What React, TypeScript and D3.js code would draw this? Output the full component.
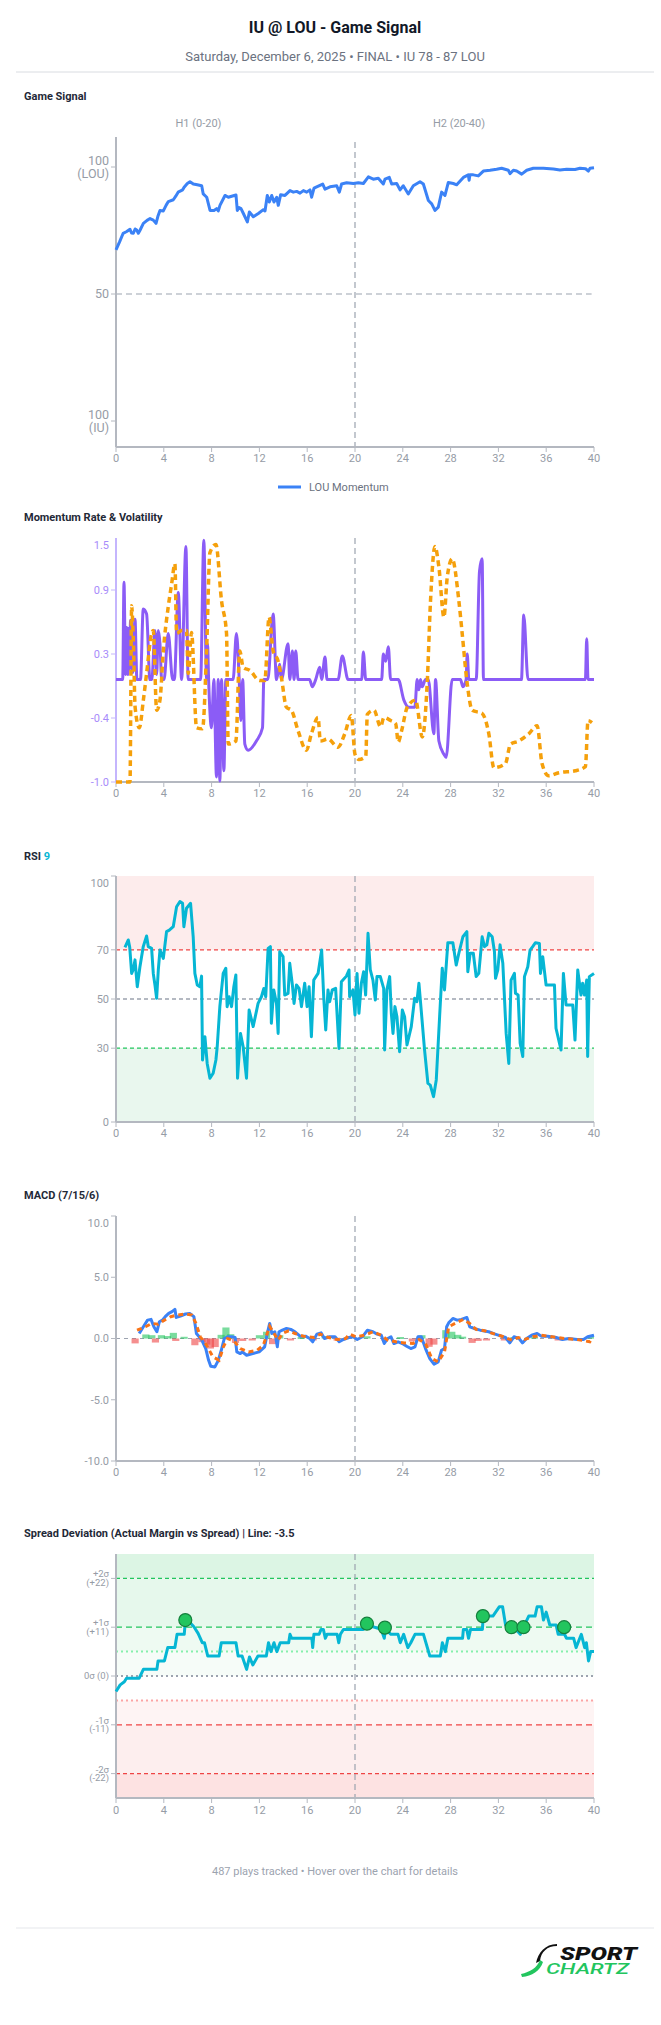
import React from "react";
import * as d3 from "d3";

const W = 661;
const H = 2025;
const FONT = "Roboto, 'Noto Sans', sans-serif";

const TITLE = "IU @ LOU - Game Signal";
const SUBTITLE = "Saturday, December 6, 2025 • FINAL • IU 78 - 87 LOU";
const FOOTER = "487 plays tracked • Hover over the chart for details";

const X_TICKS = [0, 4, 8, 12, 16, 20, 24, 28, 32, 36, 40];

// Game signal: LOU momentum (0 = IU 100, 100 = LOU 100)
const SIGNAL_TICKS = [100, 50, 0];
const SIGNAL_LABELS = [["100", "(LOU)"], ["50"], ["100", "(IU)"]];
const momentum: [number, number][] = [
  [0, 67.4], [0.3, 70.5], [0.6, 73.9], [0.9, 74.6], [1.17, 75.5], [1.3, 74.0], [1.45, 73.9], [1.6, 75.6], [1.73, 75.2],
  [1.87, 73.9], [2.0, 75.0], [2.29, 77.8], [2.6, 79.0], [2.85, 79.7], [3.12, 79.1], [3.35, 77.8], [3.5, 80.5], [3.68, 82.9],
  [3.96, 82.7], [4.2, 85.0], [4.38, 86.4], [4.8, 87.1], [5.0, 88.5], [5.2, 90.1], [5.58, 91.0], [5.7, 92.0], [5.97, 93.5],
  [6.19, 94.2], [6.47, 93.3], [6.8, 93.0], [7.17, 92.6], [7.3, 89.4], [7.59, 88.1], [7.87, 82.9], [8.2, 82.9], [8.42, 83.6],
  [8.56, 82.7], [8.7, 84.9], [9.12, 88.8], [9.4, 88.1], [9.68, 88.5], [10.04, 89.0], [10.15, 82.9], [10.3, 84.0], [10.46, 83.6],
  [10.66, 81.7], [10.99, 78.4], [11.16, 82.3], [11.49, 80.4], [11.91, 81.7], [12.33, 83.2], [12.47, 82.7], [12.66, 88.8],
  [12.83, 86.2], [13.03, 88.8], [13.22, 86.2], [13.45, 88.1], [13.58, 84.9], [13.78, 89.1], [14.14, 88.8], [14.56, 90.7],
  [14.84, 90.1], [15.12, 90.4], [15.4, 89.7], [15.68, 90.7], [15.96, 90.1], [16.23, 91.0], [16.37, 88.1], [16.57, 91.7],
  [16.93, 92.5], [17.3, 93.3], [17.49, 91.3], [17.91, 92.2], [18.47, 92.6], [18.69, 90.1], [18.88, 93.3], [19.3, 93.8],
  [19.86, 93.5], [20.28, 93.8], [20.7, 93.5], [21.12, 96.1], [21.53, 95.2], [21.95, 95.6], [22.37, 93.3], [22.51, 95.2],
  [22.87, 95.9], [23.07, 93.3], [23.49, 93.5], [23.77, 91.0], [24.04, 92.6], [24.46, 89.4], [24.88, 92.6], [25.44, 94.2],
  [25.72, 93.3], [26.14, 86.8], [26.42, 85.5], [26.69, 82.9], [26.97, 84.2], [27.25, 90.1], [27.53, 88.8], [27.81, 93.9],
  [28.23, 93.5], [28.51, 93.0], [29.07, 95.9], [29.48, 96.9], [29.55, 94.8], [29.62, 96.9], [29.9, 96.9], [30.32, 96.5],
  [30.74, 98.4], [31.3, 98.7], [31.85, 99.1], [32.27, 99.5], [32.83, 98.7], [32.97, 97.4], [33.25, 98.7], [33.53, 98.4],
  [33.95, 97.2], [34.37, 98.7], [34.92, 99.5], [35.76, 99.5], [36.6, 99.2], [37.15, 98.8], [37.71, 99.1], [38.41, 99.0],
  [38.83, 99.5], [39.3, 99.3], [39.53, 98.4], [39.67, 99.5], [40, 99.7],
];

// Momentum rate (purple) & volatility (orange)
const RATE_TICKS = [-1, -0.375, 0.25, 0.875, 1.5];
const RATE_LABELS = ["-1.0", "-0.4", "0.3", "0.9", "1.5"];
const rate: [number, number][] = [
  [0, 0], [0.56, 0], [0.67, 0.95], [0.8, 0.05], [0.89, 0.51], [1.0, 0.05], [1.05, 0.5], [1.12, 0.1], [1.22, 0.58], [1.4, 0.07],
  [1.59, 0.59], [1.75, 0], [2.05, 0], [2.28, 0.69], [2.56, 0.64], [2.84, 0], [3.0, 0], [3.26, 0.48], [3.4, 0.05], [3.54, 0.48],
  [3.68, 0.35], [3.82, 0], [4.02, 0], [4.37, 0.45], [4.74, 0], [4.88, 0], [5.21, 0.85], [5.49, 0], [5.85, 1.3], [6.04, 0],
  [7.08, 0], [7.35, 1.36], [7.58, 0], [7.66, 0.35], [7.75, 0], [7.99, -0.47], [8.19, 0], [8.41, -0.95], [8.55, 0], [8.69, -0.99],
  [8.83, 0], [9.03, -0.89], [9.19, 0], [9.8, 0], [10.08, 0.45], [10.31, 0], [10.45, -0.4], [10.6, 0], [10.78, -0.63],
  [11.06, -0.69], [11.75, -0.6], [12.26, -0.47], [12.37, 0], [12.7, 0], [13.15, 0.64], [13.43, 0], [13.7, 0.15], [13.84, 0],
  [14.4, 0.35], [14.54, 0], [14.76, 0.28], [14.9, 0], [15.04, 0.28], [15.24, 0], [16.2, 0], [16.43, -0.07], [16.71, 0],
  [17.05, 0.12], [17.21, 0], [17.49, 0.22], [17.66, 0], [18.58, 0], [18.94, 0.23], [19.42, 0], [20.56, 0], [20.7, 0.27],
  [20.9, 0], [22.23, 0], [22.37, 0.25], [22.57, 0.18], [22.79, 0.32], [22.98, 0], [23.62, 0], [24.09, -0.2], [24.5, -0.27],
  [25.01, -0.27], [25.2, 0], [25.34, -0.1], [25.48, 0], [25.62, -0.07], [25.9, 0], [26.13, 0], [26.6, -0.53], [26.74, 0],
  [27.02, -0.6], [27.44, -0.73], [27.63, -0.76], [28.13, 0], [28.83, 0], [29.03, -0.07], [29.3, 0], [29.39, 0.25], [29.53, 0],
  [30.14, 0], [30.42, 1.06], [30.64, 1.18], [30.75, 0], [33.93, 0], [34.12, 0.63], [34.48, 0], [39.28, 0], [39.39, 0.4],
  [39.5, 0], [40, 0],
];
const volatility: [number, number][] = [
  [0, -1], [1.17, -1], [1.31, 0.72], [1.45, 0.38], [1.6, -0.27], [1.95, -0.47], [2.29, -0.2], [2.56, 0.06], [2.98, 0.45],
  [3.12, 0.48], [3.4, -0.3], [3.68, -0.2], [3.96, 0.28], [4.37, 0.71], [4.65, 0.93], [4.93, 1.13], [5.07, 0.45], [5.49, 0.48],
  [5.9, 0.48], [6.04, 0.06], [6.32, 0.46], [6.74, -0.47], [7.24, -0.48], [7.58, 0.28], [7.86, 1.24], [8.36, 1.32], [8.83, 0.77],
  [9.25, 0.45], [9.39, -0.63], [10.03, -0.6], [10.36, 0.28], [10.64, 0.12], [11.2, 0.09], [12.03, -0.01], [12.45, -0.01],
  [12.81, 0.61], [13.15, 0.28], [13.57, 0.18], [13.84, 0.02], [14.26, -0.27], [14.68, -0.3], [15.24, -0.5], [15.93, -0.69],
  [16.35, -0.53], [16.91, -0.37], [17.1, -0.6], [17.74, -0.58], [18.58, -0.66], [19.14, -0.53], [19.69, -0.35], [20.0, -0.73],
  [20.33, -0.78], [20.9, -0.75], [21.03, -0.34], [21.59, -0.3], [22.14, -0.46], [22.42, -0.37], [22.98, -0.4], [23.4, -0.43],
  [23.62, -0.61], [23.9, -0.5], [24.37, -0.27], [25.07, -0.2], [25.63, -0.56], [26.04, -0.04], [26.32, 0.77], [26.69, 1.3],
  [27.02, 1.1], [27.44, 0.61], [27.72, 1.0], [28.13, 1.18], [28.69, 0.77], [28.97, 0.45], [29.39, -0.04], [29.81, -0.3],
  [30.64, -0.33], [31.2, -0.53], [31.62, -0.86], [32.59, -0.82], [33.01, -0.63], [33.7, -0.6], [34.54, -0.53], [35.24, -0.45],
  [35.65, -0.82], [36.21, -0.94], [37.05, -0.91], [38.44, -0.89], [39.28, -0.85], [39.5, -0.4], [39.83, -0.42],
];

// RSI 9
const RSI_TICKS = [0, 30, 50, 70, 100];
const rsi: [number, number][] = [
  [0.75, 71], [1.03, 74], [1.15, 71], [1.31, 60.4], [1.45, 62], [1.59, 65.9], [1.78, 55], [2.0, 63], [2.28, 71.3], [2.56, 75.6],
  [2.7, 71.3], [2.98, 70.6], [3.12, 60.4], [3.26, 55.7], [3.4, 50.3], [3.54, 61.8], [3.68, 69.9], [3.96, 66.5], [4.23, 77.4],
  [4.46, 78], [4.79, 79.4], [5.07, 87.5], [5.35, 89.6], [5.57, 88.9], [5.68, 79.4], [5.9, 86.9], [6.24, 88.9], [6.46, 75.3],
  [6.6, 60.4], [6.8, 55.7], [7.02, 55], [7.16, 59.3], [7.24, 25.2], [7.44, 34.7], [7.63, 23.8], [7.86, 17.8], [8.13, 19.8],
  [8.36, 25.2], [8.47, 30.6], [8.69, 46.9], [8.97, 60.4], [9.19, 62.5], [9.3, 46.9], [9.47, 50.9], [9.67, 46.9], [9.86, 55],
  [10.03, 59.8], [10.17, 17.8], [10.42, 36], [10.64, 30.6], [10.92, 17.8], [11.14, 45.5], [11.48, 38.8], [11.89, 48.2],
  [12.17, 50.9], [12.37, 54.3], [12.53, 50.9], [12.73, 70.6], [12.92, 71.3], [13.0, 40.1], [13.2, 53.7], [13.43, 48.2],
  [13.57, 36], [13.7, 69.2], [13.98, 67.2], [14.12, 51.6], [14.4, 52.3], [14.54, 64.5], [14.76, 55.7], [14.9, 48.2],
  [15.1, 55.7], [15.32, 54.3], [15.52, 46.9], [15.79, 56.4], [15.99, 46.9], [16.16, 55], [16.35, 34.7], [16.55, 57.7],
  [16.91, 60.4], [17.21, 69.9], [17.38, 50.9], [17.55, 37.4], [17.74, 53.7], [17.88, 48.9], [18.1, 53.7], [18.38, 54.3],
  [18.66, 29.9], [18.86, 57], [19.28, 59.3], [19.5, 61.8], [19.55, 50.9], [19.83, 53.7], [20.0, 43.5], [20.17, 60.4],
  [20.33, 44.2], [20.53, 56.4], [20.72, 61.1], [20.89, 51.6], [21.09, 76.7], [21.28, 61.8], [21.5, 57.7], [21.7, 49.6],
  [21.84, 59.1], [22.12, 59.1], [22.4, 54.3], [22.48, 29.3], [22.67, 53.7], [22.9, 59.1], [23.04, 44.2], [23.18, 36],
  [23.34, 46.9], [23.51, 42.8], [23.73, 28.6], [23.96, 45.5], [24.15, 42.8], [24.35, 31.3], [24.71, 38.8], [24.99, 50.3],
  [25.18, 48.9], [25.35, 56.4], [25.54, 45.5], [25.82, 29.3], [26.1, 15.7], [26.3, 15], [26.57, 10.3], [26.8, 17.1],
  [27.08, 42.8], [27.3, 62.5], [27.49, 53.7], [27.77, 72.9], [28.19, 72.9], [28.47, 63.8], [28.69, 68.6], [29.03, 75.3],
  [29.36, 77.4], [29.44, 61.1], [29.64, 68.6], [29.9, 68.6], [30.14, 59.1], [30.36, 60.4], [30.64, 75.3], [30.84, 71.3],
  [31.03, 72], [31.2, 76.7], [31.48, 75.3], [31.67, 69.2], [31.76, 58.4], [31.95, 61.8], [32.14, 72], [32.37, 64.5],
  [32.65, 36], [32.87, 23.8], [33.06, 57.7], [33.34, 60.4], [33.43, 52.3], [33.65, 51.6], [33.82, 32], [34.04, 26.6],
  [34.18, 59.1], [34.46, 63.1], [34.65, 69.9], [34.87, 71.3], [35.1, 72.9], [35.43, 72.6], [35.52, 60.4], [35.71, 67.2],
  [35.99, 55.7], [36.69, 55.7], [36.82, 38.1], [37.24, 29.3], [37.44, 60.4], [37.66, 47.6], [38.22, 47.6], [38.41, 33.3],
  [38.64, 61.8], [38.91, 51.6], [39.05, 56.4], [39.2, 51.6], [39.39, 57.7], [39.47, 26.6], [39.61, 59.1], [40, 60.4],
];

// MACD (7/15/6)
const MACD_TICKS = [-10, -5, 0, 5, 10];
const macd: [number, number][] = [
  [1.94, 0.41], [2.29, 0.96], [2.64, 1.5], [2.93, 1.56], [3.17, 0.96], [3.42, 0.55], [3.63, 1.37], [3.88, 1.5], [4.12, 1.78],
  [4.41, 2.05], [4.69, 2.19], [4.93, 2.38], [5.04, 1.72], [5.39, 1.83], [5.81, 2.0], [6.17, 2.05], [6.52, 1.78], [6.73, 0.41],
  [7.15, -0.08], [7.51, -0.82], [7.75, -1.78], [7.93, -2.27], [8.28, -2.32], [8.56, -1.78], [8.81, -0.96], [9.06, 0],
  [9.34, 0.14], [9.69, 0.14], [9.97, 0.08], [10.11, -1.09], [10.4, -1.23], [10.57, -1.09], [10.93, -1.37], [11.45, -1.23],
  [11.98, -1.09], [12.44, -0.68], [12.69, 0.55], [12.86, 1.23], [13.04, 0.41], [13.29, 0.55], [13.5, -0.68], [13.64, 0.55],
  [13.92, 0.68], [14.27, 0.82], [14.63, 0.74], [14.98, 0.55], [15.4, 0.19], [15.86, 0.19], [16.21, 0], [16.46, -0.27],
  [16.81, 0.36], [17.16, 0.46], [17.44, 0], [17.87, 0.14], [18.33, 0.14], [18.68, -0.27], [19.03, -0.08], [19.49, 0.08],
  [19.84, 0.14], [20.19, -0.08], [20.62, 0.14], [21.04, 0.68], [21.5, 0.55], [21.85, 0.36], [22.2, 0.27], [22.45, -0.41],
  [22.73, 0], [23.01, 0.14], [23.26, -0.41], [23.61, -0.27], [23.96, -0.41], [24.32, -0.63], [24.67, -0.82], [25.02, -0.68],
  [25.27, 0.14], [25.55, 0.14], [25.9, -0.82], [26.26, -1.64], [26.61, -2.1], [26.96, -1.91], [27.24, -0.96], [27.49, -0.82],
  [27.67, 0.96], [27.84, 1.28], [28.19, 1.64], [28.55, 1.5], [28.9, 1.56], [29.36, 1.72], [29.6, 0.96], [29.96, 0.82],
  [30.48, 0.68], [31.19, 0.55], [31.72, 0.36], [32.25, 0.19], [32.6, 0.08], [32.95, -0.36], [33.3, 0.14], [33.73, 0],
  [34.01, -0.36], [34.36, 0], [34.78, 0.27], [35.24, 0.41], [35.6, 0.19], [36.12, 0.19], [36.83, 0.08], [37.36, -0.08],
  [37.89, 0], [38.59, -0.08], [39.12, -0.08], [39.47, 0.14], [40, 0.27],
];
const signal: [number, number][] = [
  [1.76, 0.68], [2.47, 0.96], [3.0, 1.23], [3.52, 1.17], [4.05, 1.5], [4.58, 1.78], [5.11, 1.91], [5.81, 2.0], [6.34, 1.91],
  [6.7, 1.23], [7.05, 0.14], [7.58, -0.55], [8.11, -1.5], [8.63, -1.78], [8.99, -0.68], [9.34, 0], [9.87, -0.19], [10.4, -0.82],
  [11.1, -1.09], [11.81, -0.96], [12.33, -0.55], [12.86, 1.0], [13.22, 0.41], [13.57, -0.14], [13.92, 0.41], [14.45, 0.63],
  [14.98, 0.41], [15.68, 0.19], [16.56, 0.08], [17.09, 0.36], [17.8, 0.08], [18.5, -0.08], [19.21, 0], [19.56, 0.36],
  [20.09, 0.14], [20.79, 0.27], [21.5, 0.55], [22.2, 0.27], [22.73, -0.14], [23.44, -0.27], [24.14, -0.36], [24.85, -0.41],
  [25.37, -0.08], [25.9, -0.41], [26.43, -1.64], [26.96, -1.91], [27.49, -1.09], [27.84, 0.96], [28.37, 1.23], [29.07, 1.56],
  [29.6, 1.23], [30.13, 0.74], [30.84, 0.63], [31.72, 0.36], [32.42, 0.14], [33.13, -0.14], [33.66, 0.08], [34.19, -0.08],
  [34.89, 0.14], [35.6, 0.27], [36.48, 0.14], [37.53, 0], [38.59, -0.08], [39.65, -0.27], [39.82, 0.0],
];
const histogram: [number, number][] = [
  [1.6, -0.4], [2.5, 0.33], [3.0, 0.27], [3.3, -0.33], [3.8, 0.27], [4.3, 0.2], [4.8, 0.46], [5.0, -0.2], [5.7, 0.14],
  [6.6, -0.55], [7.2, -0.3], [7.6, -0.5], [7.9, -0.82], [8.3, -0.7], [8.8, 0.3], [9.2, 0.9], [9.6, 0.35], [10.0, -0.36],
  [10.6, -0.2], [11.4, -0.1], [12.0, 0.27], [12.6, 0.55], [13.1, -0.46], [13.7, 0.27], [14.6, -0.15], [15.5, 0.12],
  [16.5, -0.1], [17.5, 0.2], [18.5, -0.12], [21.0, 0.18], [22.5, -0.15], [23.8, 0.12], [24.8, -0.25], [25.6, 0.27],
  [26.2, -0.68], [26.6, -0.5], [27.6, 0.68], [28.1, 0.55], [28.6, 0.3], [29.0, 0.15], [29.8, -0.36], [30.3, -0.2],
  [31.0, -0.12], [32.5, -0.1], [33.3, 0.12], [35.0, 0.15], [37.0, -0.1], [39.7, 0.15],
];

// Spread deviation (sigma = 11 points)
const SIGMA = 11;
const SPREAD_TICKS = [22, 11, 0, -11, -22];
const SPREAD_LABELS = [["+2σ", "(+22)"], ["+1σ", "(+11)"], ["0σ (0)"], ["-1σ", "(-11)"], ["-2σ", "(-22)"]];
const spread: [number, number][] = [
  [0, -3.5], [0.35, -2], [0.7, -1.3], [0.88, -0.5], [1.94, -0.5], [2.29, 1.5], [3.42, 1.5], [3.52, 3.4], [4.05, 3.4],
  [4.33, 6.4], [4.93, 6.4], [5.11, 9.4], [5.71, 9.4], [5.81, 12.6], [6.2, 12.0], [6.52, 11.1], [6.87, 9.6], [7.22, 7.5],
  [7.4, 7.5], [7.68, 4.5], [8.63, 4.5], [8.81, 7.5], [10.04, 7.5], [10.22, 4.5], [10.55, 4.5], [10.93, 1.5], [11.17, 4.3],
  [11.45, 2.5], [11.88, 4.5], [12.58, 4.5], [12.76, 7.5], [12.97, 5.5], [13.22, 7.5], [13.46, 5.5], [13.74, 7.5], [14.45, 7.5],
  [14.56, 9.4], [14.7, 8.5], [16.39, 8.5], [16.46, 6.4], [16.56, 9.4], [17.0, 9.4], [17.16, 10.5], [17.35, 10.5], [17.52, 8.5],
  [17.66, 9.4], [18.5, 9.4], [18.64, 7.5], [18.78, 9.4], [19.03, 10.5], [20.69, 10.5], [21.04, 11.5], [22.2, 10.5],
  [22.45, 8.5], [22.55, 10.5], [23.01, 9.4], [23.6, 9.4], [23.79, 7.5], [24.07, 9.4], [24.42, 6.4], [24.67, 7.5], [25.02, 9.4],
  [25.73, 9.4], [26.26, 4.5], [27.14, 4.5], [27.31, 7.5], [27.56, 5.5], [27.77, 8.5], [29.0, 8.5], [29.07, 10.5], [29.35, 10.5],
  [29.5, 8.5], [29.67, 10.5], [30.66, 10.5], [30.73, 13.5], [31.54, 13.5], [32.07, 15.6], [32.35, 15.6], [32.6, 11.5],
  [33.13, 11.5], [33.83, 9.4], [34.19, 11.5], [34.54, 13.5], [35.07, 13.5], [35.24, 15.6], [35.6, 15.6], [35.77, 12.6],
  [36.0, 14.4], [36.3, 11.5], [36.83, 11.5], [37.0, 9.4], [37.53, 9.4], [37.7, 8.5], [38.3, 8.5], [38.5, 6.4], [38.94, 9.4],
  [39.22, 6.4], [39.36, 7.5], [39.54, 3.4], [39.72, 5.5], [40, 5.5],
];
const coverDots: [number, number][] = [
  [5.8, 12.6], [21.0, 11.8], [22.5, 10.9], [30.7, 13.5], [33.1, 11.0], [34.1, 11.0], [37.5, 11.0],
];

const x = d3.scaleLinear().domain([0, 40]).range([116, 594]);
const AXIS = "#b4b8c0";
const TICK_TEXT = "#969ca6";

const lineOf = (y: d3.ScaleLinear<number, number>, curve: d3.CurveFactory = d3.curveLinear) =>
  d3
    .line<[number, number]>()
    .x((d) => x(d[0]))
    .y((d) => y(d[1]))
    .curve(curve);

function XAxis({ y, labelY }: { y: number; labelY: number }) {
  return (
    <g>
      <line x1={x(0)} x2={x(40)} y1={y} y2={y} stroke={AXIS} strokeWidth={2} />
      {X_TICKS.map((t) => (
        <g key={t}>
          <line x1={x(t)} x2={x(t)} y1={y} y2={y + 5} stroke={AXIS} strokeWidth={1} />
          <text x={x(t)} y={labelY} dy="0.35em" textAnchor="middle" fontSize={11} fill={TICK_TEXT}>
            {t}
          </text>
        </g>
      ))}
    </g>
  );
}

function YAxis({ top, bottom, ticks, labels, y, color = AXIS, textColor = TICK_TEXT, fontSize = 11, lineGap = 12 }: any) {
  return (
    <g>
      <line x1={x(0)} x2={x(0)} y1={top} y2={bottom} stroke={color} strokeWidth={2} />
      {ticks.map((t: number, i: number) => {
        const ty = y(t);
        const ly = Math.max(ty, top + 7);
        const lines: string[] = Array.isArray(labels[i]) ? labels[i] : [labels[i]];
        return (
          <g key={i}>
            {ty >= top - 0.5 && <line x1={x(0) - 5} x2={x(0)} y1={ty} y2={ty} stroke={color} strokeWidth={1} />}
            {lines.map((s, j) => (
              <text
                key={j}
                x={x(0) - 7}
                y={ly + (j - (lines.length - 1) / 2) * lineGap}
                dy="0.35em"
                textAnchor="end"
                fontSize={fontSize}
                fill={textColor}
              >
                {s}
              </text>
            ))}
          </g>
        );
      })}
    </g>
  );
}

function HalfLine({ top, bottom }: { top: number; bottom: number }) {
  return <line x1={x(20)} x2={x(20)} y1={top} y2={bottom} stroke="#9ca3af" strokeWidth={1.2} strokeDasharray="6 4" />;
}

function SectionTitle({ y, children }: any) {
  return (
    <text x={24} y={y} dy="0.35em" fontSize={11} fontWeight={700} fill="#1f2937">
      {children}
    </text>
  );
}

function SignalChart() {
  const top = 137;
  const bottom = 447;
  const y = d3.scaleLinear().domain([0, 100]).range([421, 167]);
  return (
    <g>
      <SectionTitle y={96}>Game Signal</SectionTitle>
      <text x={x(6.9)} y={123} dy="0.35em" textAnchor="middle" fontSize={11} fill={TICK_TEXT}>H1 (0-20)</text>
      <text x={x(28.7)} y={123} dy="0.35em" textAnchor="middle" fontSize={11} fill={TICK_TEXT}>H2 (20-40)</text>
      <line x1={x(0)} x2={x(39.8)} y1={y(50)} y2={y(50)} stroke="#9ca3af" strokeWidth={1.2} strokeDasharray="6 4" />
      <HalfLine top={top + 5} bottom={bottom} />
      <YAxis top={top} bottom={bottom} ticks={SIGNAL_TICKS} labels={SIGNAL_LABELS} y={y} fontSize={12.5} lineGap={12.5} />
      <XAxis y={bottom} labelY={458} />
      <path d={lineOf(y)(momentum) || ""} fill="none" stroke="#3b82f6" strokeWidth={3} strokeLinejoin="round" />
      <line x1={278} x2={301} y1={487} y2={487} stroke="#3b82f6" strokeWidth={3} />
      <text x={309} y={487} dy="0.35em" fontSize={11} fill="#6b7280">LOU Momentum</text>
    </g>
  );
}

function RateChart() {
  const top = 538;
  const bottom = 782;
  const y = d3.scaleLinear().domain([-1, 1.5]).range([782, 526]);
  return (
    <g>
      <SectionTitle y={517}>Momentum Rate &amp; Volatility</SectionTitle>
      <HalfLine top={top} bottom={bottom} />
      <XAxis y={bottom} labelY={793} />
      <YAxis top={top} bottom={bottom} ticks={RATE_TICKS} labels={RATE_LABELS} y={y} color="#c4b5fd" textColor="#a78bfa" />
      <path d={lineOf(y, d3.curveMonotoneX)(rate) || ""} fill="none" stroke="#8b5cf6" strokeWidth={3} strokeLinejoin="round" />
      <path
        d={lineOf(y, d3.curveMonotoneX)(volatility) || ""}
        fill="none"
        stroke="#f5a00b"
        strokeWidth={3.5}
        strokeDasharray="6 4"
      />
    </g>
  );
}

function RsiChart() {
  const top = 876;
  const bottom = 1122;
  const y = d3.scaleLinear().domain([0, 100]).range([bottom, top]);
  return (
    <g>
      <text x={24} y={856} dy="0.35em" fontSize={11} fontWeight={700} fill="#1f2937">
        RSI <tspan fill="#06b6d4">9</tspan>
      </text>
      <rect x={x(0)} y={y(100)} width={x(40) - x(0)} height={y(70) - y(100)} fill="#fdecec" />
      <rect x={x(0)} y={y(30)} width={x(40) - x(0)} height={y(0) - y(30)} fill="#e9f7ee" />
      <line x1={x(0)} x2={x(40)} y1={y(70)} y2={y(70)} stroke="#ef4444" strokeWidth={1.3} strokeDasharray="4 3" />
      <line x1={x(0)} x2={x(40)} y1={y(50)} y2={y(50)} stroke="#9ca3af" strokeWidth={1.3} strokeDasharray="4 3" />
      <line x1={x(0)} x2={x(40)} y1={y(30)} y2={y(30)} stroke="#22c55e" strokeWidth={1.3} strokeDasharray="4 3" />
      <HalfLine top={top} bottom={bottom} />
      <XAxis y={bottom} labelY={1133} />
      <YAxis top={top} bottom={bottom} ticks={RSI_TICKS} labels={RSI_TICKS.map(String)} y={y} />
      <path d={lineOf(y)(rsi) || ""} fill="none" stroke="#06b6d4" strokeWidth={3} strokeLinejoin="round" />
    </g>
  );
}

function MacdChart() {
  const top = 1216;
  const bottom = 1461;
  const y = d3.scaleLinear().domain([-10, 10]).range([bottom, top]);
  const bw = x(0.6) - x(0);
  return (
    <g>
      <SectionTitle y={1195}>MACD (7/15/6)</SectionTitle>
      <line x1={x(0)} x2={x(40)} y1={y(0)} y2={y(0)} stroke="#9ca3af" strokeWidth={1} strokeDasharray="4 4" />
      <HalfLine top={top} bottom={bottom} />
      <XAxis y={bottom} labelY={1472} />
      <YAxis top={top} bottom={bottom} ticks={MACD_TICKS} labels={MACD_TICKS.map((d) => d.toFixed(1))} y={y} />
      {histogram.map(([t, v], i) => (
        <rect
          key={i}
          x={x(t) - bw / 2}
          y={Math.min(y(v), y(0))}
          width={bw}
          height={Math.max(Math.abs(y(v) - y(0)), 2)}
          fill={v >= 0 ? "#22c55e" : "#ef4444"}
          opacity={0.6}
        />
      ))}
      <path d={lineOf(y)(macd) || ""} fill="none" stroke="#3b82f6" strokeWidth={3} strokeLinejoin="round" />
      <path d={lineOf(y)(signal) || ""} fill="none" stroke="#f97316" strokeWidth={3} strokeDasharray="5 4" />
    </g>
  );
}

function SpreadChart() {
  const top = 1554;
  const bottom = 1798;
  const y = d3.scaleLinear().domain([-2.5 * SIGMA, 2.5 * SIGMA]).range([bottom, top]);
  const bands: [number, number, string][] = [
    [2.5, 2, "#dcf5e4"],
    [2, 1, "#e6f8ec"],
    [1, 0.5, "#eefaf2"],
    [0.5, 0, "#f6fcf8"],
    [-0.5, -1, "#fef4f4"],
    [-1, -2, "#fdeeee"],
    [-2, -2.5, "#fde2e2"],
  ];
  const levels: [number, string, string, number][] = [
    [2, "#22c55e", "4 3", 1.3],
    [1, "#22c55e", "6 4", 1.3],
    [0.5, "#86efac", "2 3", 2],
    [0, "#9ca3af", "2 3", 2],
    [-0.5, "#fca5a5", "2 3", 2],
    [-1, "#ef4444", "6 4", 1.3],
    [-2, "#ef4444", "4 3", 1.3],
  ];
  return (
    <g>
      <SectionTitle y={1533}>Spread Deviation (Actual Margin vs Spread) | Line: -3.5</SectionTitle>
      {bands.map(([a, b, c], i) => (
        <rect key={i} x={x(0)} y={y(a * SIGMA)} width={x(40) - x(0)} height={y(b * SIGMA) - y(a * SIGMA)} fill={c} />
      ))}
      {levels.map(([k, c, dash, sw], i) => (
        <line key={i} x1={x(0)} x2={x(40)} y1={y(k * SIGMA)} y2={y(k * SIGMA)} stroke={c} strokeWidth={sw} strokeDasharray={dash} />
      ))}
      <HalfLine top={top} bottom={bottom} />
      <XAxis y={bottom} labelY={1810} />
      <YAxis top={top} bottom={bottom} ticks={SPREAD_TICKS} labels={SPREAD_LABELS} y={y} fontSize={9.5} lineGap={8.5} />
      <path d={lineOf(y)(spread) || ""} fill="none" stroke="#06b6d4" strokeWidth={3} strokeLinejoin="round" />
      {coverDots.map(([t, v], i) => (
        <circle key={i} cx={x(t)} cy={y(v)} r={6.5} fill="#22c55e" stroke="#15803d" strokeWidth={1.2} />
      ))}
    </g>
  );
}

function Logo() {
  return (
    <g>
      <path d="M557 1946 C547 1946 541 1952 540 1961 L536 1963 C538 1953 545 1944 557 1944 Z" fill="#111" />
      <path d="M540 1960 C537 1968 530 1972 521 1974 L522 1977 C532 1976 540 1971 543 1962 Z" fill="#22c55e" />
      <text x={560} y={1960} fontSize={18} fontWeight={900} fontStyle="italic" fill="#111" textLength={77} lengthAdjust="spacingAndGlyphs">
        SPORT
      </text>
      <text x={546} y={1974} fontSize={15} fontWeight={500} fontStyle="italic" fill="#22c55e" textLength={83} lengthAdjust="spacingAndGlyphs">
        CHARTZ
      </text>
    </g>
  );
}

export default function App() {
  return (
    <div style={{ position: "absolute", left: 0, top: 0, width: W, height: H, background: "#fff" }}>
      <svg width={W} height={H} viewBox={`0 0 ${W} ${H}`} style={{ display: "block", fontFamily: FONT }}>
        <rect width={W} height={H} fill="#fff" />
        <text x={335} y={27} dy="0.35em" textAnchor="middle" fontSize={16} fontWeight={700} fill="#111827">
          {TITLE}
        </text>
        <text x={335} y={56} dy="0.35em" textAnchor="middle" fontSize={13} fill="#6b7280">
          {SUBTITLE}
        </text>
        <line x1={16} x2={654} y1={72} y2={72} stroke="#d9dce1" strokeWidth={1} />
        <SignalChart />
        <RateChart />
        <RsiChart />
        <MacdChart />
        <SpreadChart />
        <text x={335} y={1871} dy="0.35em" textAnchor="middle" fontSize={11} fill="#9ca3af">
          {FOOTER}
        </text>
        <line x1={16} x2={654} y1={1928} y2={1928} stroke="#e5e7eb" strokeWidth={1} />
        <Logo />
      </svg>
    </div>
  );
}
